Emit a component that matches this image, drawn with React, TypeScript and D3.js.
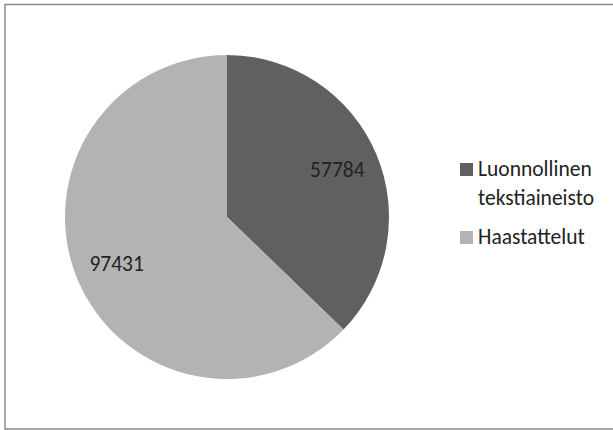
import React from "react";
import * as d3 from "d3";

const categories = ["Luonnollinen tekstiaineisto", "Haastattelut"];
const values = [57784, 97431];
const legendLines = [["Luonnollinen", "tekstiaineisto"], ["Haastattelut"]];
const colors = ["#606060", "#b3b3b3"];

export default function App() {
  const W = 613, H = 430;
  const cx = 227, cy = 217, r = 162;
  const pie = d3.pie<number>().sort(null).value((d) => d)(values);
  const arc = d3.arc<d3.PieArcDatum<number>>().innerRadius(0).outerRadius(r);
  const labelArc = d3.arc<d3.PieArcDatum<number>>().innerRadius(r * 0.74).outerRadius(r * 0.74);
  const font = "Carlito, Calibri, Lato, 'Open Sans', sans-serif";
  const fs = 21.5;
  return (
    <svg width={W} height={H} style={{ position: "absolute", left: 0, top: 0 }}>
      <rect x={5} y={4.5} width={620} height={424.5} fill="#fff" stroke="#8c8c8c" strokeWidth={1.5} />
      <g transform={`translate(${cx},${cy})`}>
        {pie.map((p, i) => (
          <path key={i} d={arc(p) || ""} fill={colors[i]} />
        ))}
        {pie.map((p, i) => {
          const [x, y] = labelArc.centroid(p);
          return (
            <text key={i} x={x} y={y} textAnchor="middle" dy="0.32em" fontFamily={font} fontSize={fs} fill="#222">
              {values[i]}
            </text>
          );
        })}
      </g>
      {categories.map((c, i) => {
        const y0 = i === 0 ? 163 : 231;
        return (
          <g key={c}>
            <rect x={460} y={y0} width={13} height={13} fill={colors[i]} />
            {legendLines[i].map((l, j) => (
              <text key={j} x={478} y={y0 + 13 + j * 29} fontFamily={font} fontSize={fs} fill="#222">
                {l}
              </text>
            ))}
          </g>
        );
      })}
    </svg>
  );
}
